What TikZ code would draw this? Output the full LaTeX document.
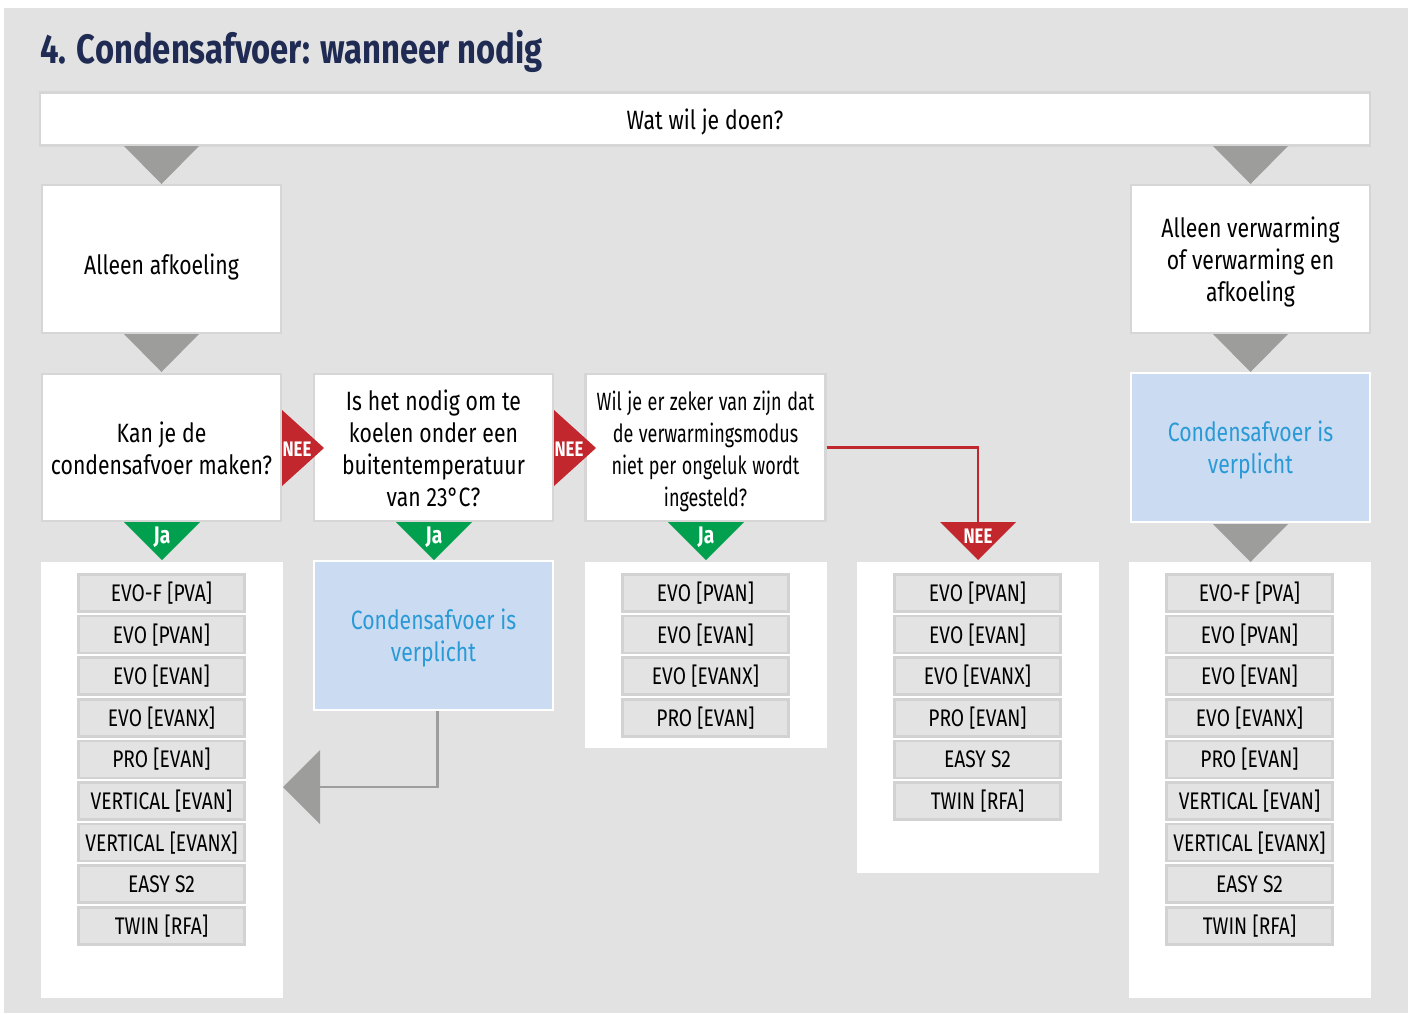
\documentclass[tikz,border=0pt]{standalone}
\usepackage{fontspec}
\setmainfont[FakeStretch=0.8]{Fira Sans}
\newfontfamily\smal[FakeStretch=0.72]{Fira Sans}
\usepackage{tikz}
\usetikzlibrary{positioning}

\definecolor{achter}{HTML}{E2E2E2}
\definecolor{rand}{HTML}{D6D6D6}
\definecolor{item}{HTML}{E3E3E3}
\definecolor{itemrand}{HTML}{D2D2D2}
\definecolor{grijs}{HTML}{9D9D9C}
\definecolor{blauw}{HTML}{CBDCF2}
\definecolor{blauwtekst}{HTML}{2A9AD6}
\definecolor{rood}{HTML}{C1272D}
\definecolor{groen}{HTML}{00A04E}
\definecolor{titelkleur}{HTML}{1F2B52}

\begin{document}
\begin{tikzpicture}[x=1pt,y=-1pt,
  vraag/.style={draw=rand,line width=2.5pt,fill=white,minimum width=239pt,minimum height=147pt,
    text width=236pt,inner sep=0pt,align=center,font=\fontsize{26.5}{32}\selectfont,
    execute at begin node={\spaceskip=0.22em\relax\rule{0pt}{#1}}},
  vraag/.default=26pt,
  verplicht/.style={vraag,draw=white,fill=blauw,text=blauwtekst},
  lijst/.style={fill=white,minimum width=242pt,inner sep=0pt},
  model/.style={draw=itemrand,line width=2.5pt,fill=item,minimum width=166pt,minimum height=37pt,
    inner sep=0pt,font=\fontsize{24}{26}\selectfont,execute at begin node={\spaceskip=0.22em\relax}},
  label/.style={text=white,inner sep=0pt,font=\bfseries\fontsize{21}{21}\selectfont},
  verbinding/.style={line width=2.7pt}]

% achtergrond
\useasboundingbox (0,0) rectangle (1408,1013);
\fill[achter] (4,8) rectangle (1408,1013);

\draw (40,51) node[anchor=west,inner sep=0pt,text=titelkleur,font=\bfseries\fontsize{41}{44}\selectfont] (titel) {4. Condensafvoer: wanneer nodig};

% vragen
\draw (705,119) node[vraag,minimum width=1330pt,minimum height=53pt,text width=1300pt] (doen) {Wat wil je doen?};
\draw (161.5,259) node[vraag=36pt,minimum height=148pt] (afkoeling) {Alleen afkoeling};
\draw (1250.5,259) node[vraag,minimum height=148pt] (verwarming) {Alleen verwarming\\of verwarming en\\afkoeling};
\draw (161.5,447.5) node[vraag=22pt] (maken) {Kan je de\\condensafvoer maken?};
\draw (433.5,447.5) node[vraag=22pt] (nodig) {Is het nodig om te\\koelen onder een\\buitentemperatuur\\van 23°C?};
\draw (705.5,447.5) node[vraag=28pt,text width=240pt,font=\smal\fontsize{25}{32}\selectfont] (zeker) {Wil je er zeker van zijn dat\\de verwarmingsmodus\\niet per ongeluk wordt\\ingesteld?};
\draw (1250.5,447.5) node[verplicht,minimum height=149pt] (verplichtB) {Condensafvoer is\\verplicht};
\draw (433.5,635.5) node[verplicht,minimum height=149pt] (verplichtA) {Condensafvoer is\\verplicht};

% lijsten
\draw (162,780) node[lijst,minimum height=436pt] (lijstA) {};
\draw (706,655) node[lijst,minimum height=186pt] (lijstB) {};
\draw (978,717.5) node[lijst,minimum height=311pt] (lijstC) {};
\draw (1250,780) node[lijst,minimum height=436pt] (lijstD) {};

\draw (161.5,593) node[model] (a1) {EVO-F [PVA]};
\draw (161.5,634.6) node[model] (a2) {EVO [PVAN]};
\draw (161.5,676.2) node[model] (a3) {EVO [EVAN]};
\draw (161.5,717.8) node[model] (a4) {EVO [EVANX]};
\draw (161.5,759.4) node[model] (a5) {PRO [EVAN]};
\draw (161.5,801) node[model] (a6) {VERTICAL [EVAN]};
\draw (161.5,842.6) node[model] (a7) {VERTICAL [EVANX]};
\draw (161.5,884.2) node[model] (a8) {EASY S2};
\draw (161.5,925.8) node[model] (a9) {TWIN [RFA]};

\draw (705.5,593) node[model] (b1) {EVO [PVAN]};
\draw (705.5,634.6) node[model] (b2) {EVO [EVAN]};
\draw (705.5,676.2) node[model] (b3) {EVO [EVANX]};
\draw (705.5,717.8) node[model] (b4) {PRO [EVAN]};

\draw (977.5,593) node[model] (c1) {EVO [PVAN]};
\draw (977.5,634.6) node[model] (c2) {EVO [EVAN]};
\draw (977.5,676.2) node[model] (c3) {EVO [EVANX]};
\draw (977.5,717.8) node[model] (c4) {PRO [EVAN]};
\draw (977.5,759.4) node[model] (c5) {EASY S2};
\draw (977.5,801) node[model] (c6) {TWIN [RFA]};

\draw (1249.5,593) node[model] (d1) {EVO-F [PVA]};
\draw (1249.5,634.6) node[model] (d2) {EVO [PVAN]};
\draw (1249.5,676.2) node[model] (d3) {EVO [EVAN]};
\draw (1249.5,717.8) node[model] (d4) {EVO [EVANX]};
\draw (1249.5,759.4) node[model] (d5) {PRO [EVAN]};
\draw (1249.5,801) node[model] (d6) {VERTICAL [EVAN]};
\draw (1249.5,842.6) node[model] (d7) {VERTICAL [EVANX]};
\draw (1249.5,884.2) node[model] (d8) {EASY S2};
\draw (1249.5,925.8) node[model] (d9) {TWIN [RFA]};

% verbindingen
\coordinate (neetop) at (978,523);
\coordinate (terug) at (320,787);
\draw[verbinding,rood] (zeker.east) -| (neetop);
\draw[verbinding,grijs] ([xshift=4pt]verplichtA.south) |- (terug);

% pijlen
\fill[grijs] (124,146) -- (199,146) -- (161.5,184) -- cycle;
\fill[grijs] (1213,146) -- (1288,146) -- (1250.5,184) -- cycle;
\fill[grijs] (124,334) -- (199,334) -- (161.5,372) -- cycle;
\fill[grijs] (1213,334) -- (1288,334) -- (1250.5,372) -- cycle;
\fill[grijs] (1213,524) -- (1288,524) -- (1250.5,562) -- cycle;
\fill[grijs] (320,750) -- (283,787) -- (320,824) -- cycle;
\fill[rood] (282,410) -- (324,448) -- (282,486) -- cycle;
\fill[rood] (554,410) -- (596,448) -- (554,486) -- cycle;
\fill[rood] (940,522) -- (1016,522) -- (978,560) -- cycle;
\fill[groen] (124,522) -- (200,522) -- (162,560) -- cycle;
\fill[groen] (396,522) -- (472,522) -- (434,560) -- cycle;
\fill[groen] (668,522) -- (744,522) -- (706,560) -- cycle;

\draw (297,449) node[label] (nee1) {NEE};
\draw (569,449) node[label] (nee2) {NEE};
\draw (978,536) node[label] (nee3) {NEE};
\draw (162,537) node[label,font=\bfseries\fontsize{24}{24}\selectfont] (ja1) {Ja};
\draw (434,537) node[label,font=\bfseries\fontsize{24}{24}\selectfont] (ja2) {Ja};
\draw (706,537) node[label,font=\bfseries\fontsize{24}{24}\selectfont] (ja3) {Ja};

\end{tikzpicture}
\end{document}
